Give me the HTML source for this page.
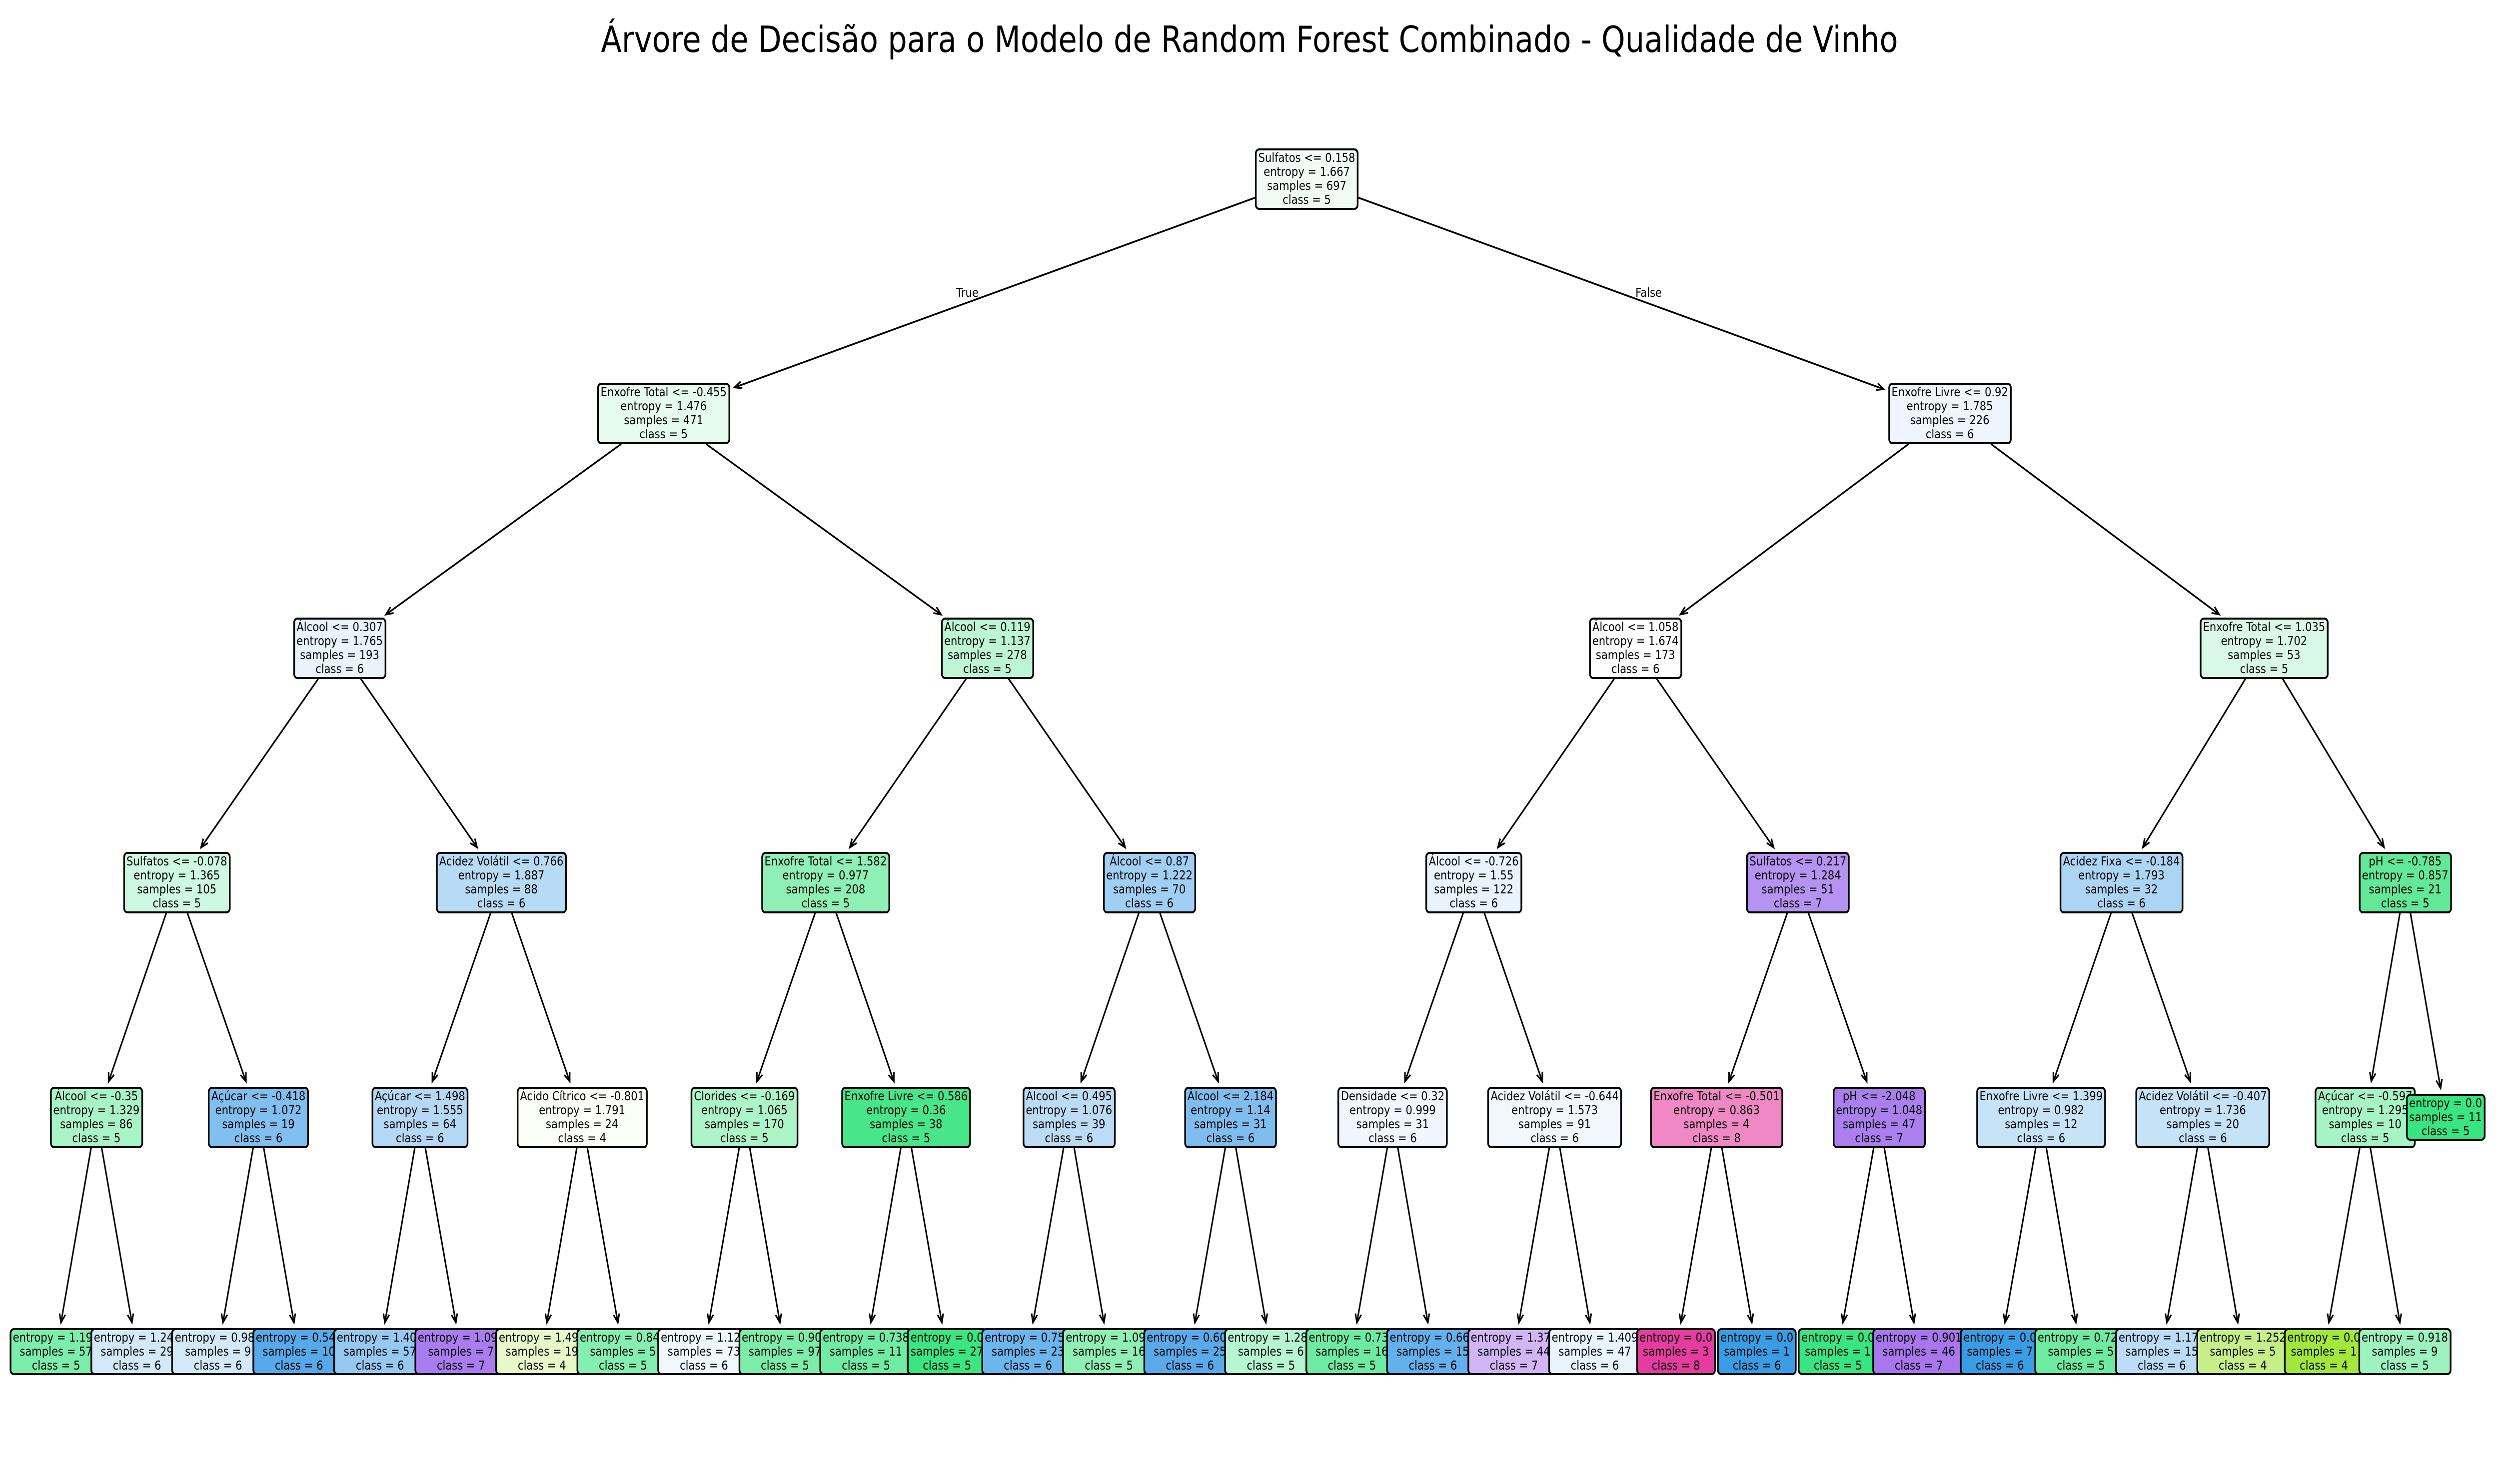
<!DOCTYPE html>
<html><head><meta charset="utf-8">
<style>
html,body{margin:0;padding:0;background:#fff;width:100%;height:100%;overflow:hidden;}
#c{position:absolute;left:0;top:0;width:5938px;height:2970px;overflow:hidden;background:#fff;font-family:"DejaVu Sans","Liberation Sans",sans-serif;transform-origin:0 0;}
.t{position:absolute;left:0;width:5938px;top:36px;text-align:center;font-size:72px;white-space:nowrap;color:#000;line-height:86px;}
.n{position:absolute;left:0;top:0;border:4px solid #000;border-radius:10px;padding:1px 4px;font-size:25px;line-height:28.3px;text-align:center;white-space:nowrap;color:#000;box-sizing:content-box;}
.lb{position:absolute;font-size:25px;white-space:nowrap;line-height:30px;}
svg{position:absolute;left:0;top:0;}
</style></head><body>
<div id="c">
<div class="t">Árvore de Decisão para o Modelo de Random Forest Combinado - Qualidade de Vinho</div>
<svg id="s" width="5938" height="2970"></svg>
<div class="lb" style="left:2272px;top:571px">True</div>
<div class="lb" style="left:3886px;top:571px">False</div>
</div>
<script>
var Y=[358,827,1297,1766,2236,2705];
var N=[];
function add(id,x,lvl,lines,col,par){N.push({id:id,x:x,y:Y[lvl],lines:lines,col:col,par:par});}
function q(a,e,s,c){return [a,"entropy = "+e,"samples = "+s,"class = "+c];}
add("r",3105,0,q("Sulfatos <= 0.158","1.667",697,5),"#f2fcf7",null);
add("a",1577,1,q("Enxofre Total <= -0.455","1.476",471,5),"#e5fcee","r");
add("b",4633,1,q("Enxofre Livre <= 0.92","1.785",226,6),"#eef5fd","r");
add("aa",807,2,q("Álcool <= 0.307","1.765",193,6),"#e8f3fc","a");
add("ab",2346,2,q("Álcool <= 0.119","1.137",278,5),"#bdf6d4","a");
add("ba",3886,2,q("Álcool <= 1.058","1.674",173,6),"#fefeff","b");
add("bb",5380,2,q("Enxofre Total <= 1.035","1.702",53,5),"#d9f9e6","b");
var L3=[["aa",420,q("Sulfatos <= -0.078","1.365",105,5),"#cef8df"],
["aa",1191,q("Acidez Volátil <= 0.766","1.887",88,6),"#b7dbf5"],
["ab",1962,q("Enxofre Total <= 1.582","0.977",208,5),"#8ff0b5"],
["ab",2731,q("Álcool <= 0.87","1.222",70,6),"#a0cff3"],
["ba",3502,q("Álcool <= -0.726","1.55",122,6),"#e8f3fc"],
["ba",4272,q("Sulfatos <= 0.217","1.284",51,7),"#b793f1"],
["bb",5041,q("Acidez Fixa <= -0.184","1.793",32,6),"#acd5f4"],
["bb",5715,q("pH <= -0.785","0.857",21,5),"#62e897"]];
L3.forEach(function(d,i){add("c"+i,d[1],3,d[2],d[3],d[0]);});
var L4=[[229,q("Álcool <= -0.35","1.329",86,5),"#a8f4c6"],
[614,q("Açúcar <= -0.418","1.072",19,6),"#80bff0"],
[998,q("Açúcar <= 1.498","1.555",64,6),"#b5d9f5"],
[1383,q("Ácido Cítrico <= -0.801","1.791",24,4),"#fafef6"],
[1769,q("Clorides <= -0.169","1.065",170,5),"#adf4c9"],
[2153,q("Enxofre Livre <= 0.586","0.36",38,5),"#48e589"],
[2540,q("Álcool <= 0.495","1.076",39,6),"#bcdcf6"],
[2924,q("Álcool <= 2.184","1.14",31,6),"#7ebdee"],
[3309,q("Densidade <= 0.32","0.999",31,6),"#f1f6fe"],
[3694,q("Acidez Volátil <= -0.644","1.573",91,6),"#f1f7fd"],
[4079,q("Enxofre Total <= -0.501","0.863",4,8),"#f088c6"],
[4465,q("pH <= -2.048","1.048",47,7),"#ab7fee"],
[4850,q("Enxofre Livre <= 1.399","0.982",12,6),"#c7e3f8"],
[5234,q("Acidez Volátil <= -0.407","1.736",20,6),"#c5e2f7"],
[5620,q("Açúcar <= -0.597","1.295",10,5),"#a6f3c5"]];
L4.forEach(function(d,i){add("d"+i,d[0],4,d[1],d[2],"c"+Math.floor(i/2));});
var LV=[["1.191",57,5,"#7beeab"],["1.241",29,6,"#d3e9f8"],["0.987",9,6,"#d3e9f8"],["0.544",10,6,"#56a9ea"],
["1.401",57,6,"#95c9f1"],["1.093",7,7,"#aa7dee"],["1.495",19,4,"#e8f8c9"],["0.845",5,5,"#84efb0"],
["1.122",73,6,"#f0f7fd"],["0.902",97,5,"#7deeaa"],["0.738",11,5,"#70eca4"],["0.0",27,5,"#3ae582"],
["0.755",23,6,"#6cb5ed"],["1.092",16,5,"#8ff0b5"],["0.605",25,6,"#5aaaeb"],["1.281",6,5,"#b5f5d0"],
["0.731",16,5,"#6eeba2"],["0.667",15,6,"#63b0ec"],["1.371",44,7,"#d1b6f5"],["1.409",47,6,"#e9f4fc"],
["0.0",3,8,"#e53d9f"],["0.0",1,6,"#399de5"],["0.0",1,5,"#39e581"],["0.901",46,7,"#a877ed"],
["0.0",7,6,"#399de5"],["0.722",5,5,"#6deba1"],["1.179",15,6,"#bcdcf6"],["1.252",5,4,"#c6ef8a"],
["0.0",1,4,"#a2e83b"],["0.918",9,5,"#9df2bf"]];
LV.forEach(function(d,i){add("e"+i,133+i*192.45,5,["entropy = "+d[0],"samples = "+d[1],"class = "+d[2]],d[3],"d"+Math.floor(i/2));});
add("pl",5811,4,["entropy = 0.0","samples = 11","class = 5"],"#39e581","c7");

var C=document.getElementById("c"),M={};
N.forEach(function(n){var d=document.createElement("div");d.className="n";d.style.background=n.col;d.innerHTML=n.lines.join("<br>");C.appendChild(d);n.el=d;M[n.id]=n;});
N.forEach(function(n){var w=n.el.offsetWidth,h=n.el.offsetHeight;n.w=w;n.h=h;var l=n.x-w/2;if(l+w>5936)l=5936-w;if(l<0)l=0;n.el.style.left=l+"px";n.el.style.top=(n.y-h/2)+"px";});
var S=document.getElementById("s"),h="";
function clip(w,hh,dx,dy){var tx=Math.abs(dx)>0?(w/2)/Math.abs(dx):1e9,ty=Math.abs(dy)>0?(hh/2)/Math.abs(dy):1e9;return Math.min(tx,ty);}
N.forEach(function(n){if(!n.par)return;var p=M[n.par];
var dx=n.x-p.x,dy=n.y-p.y,len=Math.sqrt(dx*dx+dy*dy),ux=dx/len,uy=dy/len;
var t1=clip(p.w,p.h,ux,uy);var sx=p.x+ux*t1,sy=p.y+uy*t1;
var t2=clip(n.w,n.h,-ux,-uy)+11;var ex=n.x-ux*t2,ey=n.y-uy*t2;
h+='<line x1="'+sx+'" y1="'+sy+'" x2="'+ex+'" y2="'+ey+'" stroke="#000" stroke-width="3.6"/>';
var hl=17,hw=7,bx=ex-ux*hl,by=ey-uy*hl,px=-uy,py=ux;
h+='<polyline points="'+(bx+px*hw)+','+(by+py*hw)+' '+ex+','+ey+' '+(bx-px*hw)+','+(by-py*hw)+'" fill="none" stroke="#000" stroke-width="3.6"/>';});
S.innerHTML=h;
function fit(){var W=document.documentElement.clientWidth||window.innerWidth||5938,H=document.documentElement.clientHeight||window.innerHeight||2970;
var sx=W/5938,sy=H/2970;if(!(sx>0))sx=1;if(!(sy>0))sy=1;C.style.transform="scale("+sx+","+sy+")";}
fit();window.addEventListener("resize",fit);
</script>
</body></html>
